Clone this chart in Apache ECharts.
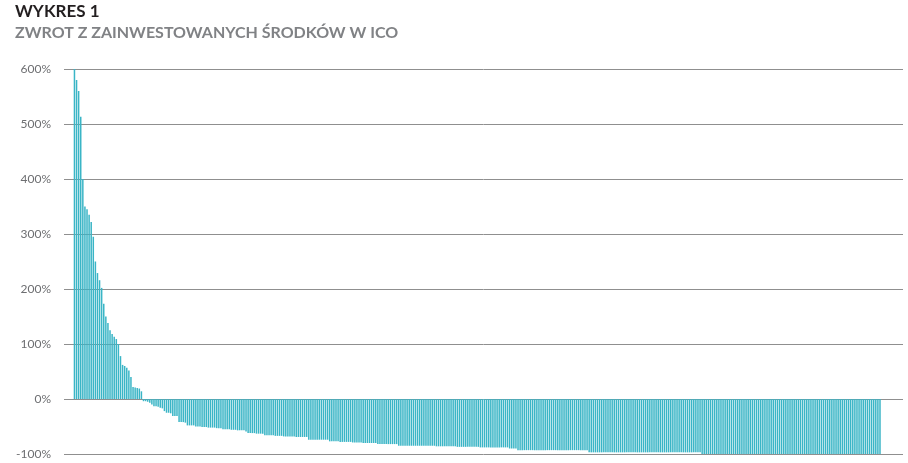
<!DOCTYPE html>
<html><head><meta charset="utf-8">
<script src="https://cdn.jsdelivr.net/npm/echarts@6/dist/echarts.min.js"></script>
<style>html,body{margin:0;padding:0;background:#fff}#c{width:908px;height:463px}</style>
</head><body><div id="c"></div>
<script>
const chartTitle = 'WYKRES 1';
const chartSubtitle = 'ZWROT Z ZAINWESTOWANYCH ŚRODKÓW W ICO';
const yMin = -100, yMax = 600, yStep = 100;

// Returns of ICOs, sorted from best to worst (in %)
const returnsGains = [600, 580, 560, 513, 400, 350, 345, 335, 322, 295, 250, 229, 216, 202, 173, 150, 138, 125, 118, 113, 109, 100, 78, 62, 60, 57, 52, 40, 22, 21, 20, 19, 14];
const returnsSmallLosses = [-4, -4, -5, -7, -10, -13, -13, -14, -16, -17, -22, -25, -25, -26, -31, -31, -31, -42, -42, -42, -43, -48, -48, -48, -48, -50, -50, -50, -51, -51, -51, -52, -52, -52, -52, -53, -53, -53, -55, -55, -55, -55, -56, -56, -56, -57, -57, -57, -57, -59];
const returnsMidLosses = [-62, -62, -62, -62, -63, -63, -63, -63, -66, -66, -66, -66, -66, -67, -67, -67, -67, -68, -68, -68, -68, -68, -68, -69, -69, -69, -69, -69, -69, -74, -74, -74, -74, -74, -74, -74, -74, -74, -74, -77, -77, -77, -77, -77, -78, -78, -78, -78, -78, -78, -79, -79, -79, -79, -79, -80, -80, -80, -80, -80, -80, -80];
const returnsLargeLosses = [-82, -82, -82, -82, -82, -82, -82, -82, -82, -82, -85, -85, -85, -85, -85, -85, -85, -85, -85, -85, -85, -85, -85, -85, -85, -85, -85, -85, -86, -86, -86, -86, -86, -86, -86, -86, -86, -86, -87, -87, -87, -87, -87, -87, -87, -87, -87, -87, -87, -88, -88, -88, -88, -88, -88, -88, -88, -88, -88, -88, -88, -88, -88, -90, -90, -90, -90];
const returnsHeavyLosses = [-93, -93, -93, -93, -93, -93, -93, -93, -93, -93, -93, -93, -93, -93, -93, -93, -93, -93, -93, -93, -93, -93, -93, -93, -93, -93, -93, -93, -93, -93, -93, -93, -93, -93, -97, -97, -97, -97, -97, -97, -97, -97, -97, -97, -97, -97, -97, -97, -97, -97, -97, -97, -97, -97, -97, -97, -97, -97, -97, -97, -97, -97, -97, -97, -97, -97, -97, -97, -97, -97, -97, -97, -97, -97, -97, -97, -97, -97, -97, -97, -97, -97, -97, -97, -97, -97, -97, -97];
const returnsTotalLosses = [-100, -100, -100, -100, -100, -100, -100, -100, -100, -100, -100, -100, -100, -100, -100, -100, -100, -100, -100, -100, -100, -100, -100, -100, -100, -100, -100, -100, -100, -100, -100, -100, -100, -100, -100, -100, -100, -100, -100, -100, -100, -100, -100, -100, -100, -100, -100, -100, -100, -100, -100, -100, -100, -100, -100, -100, -100, -100, -100, -100, -100, -100, -100, -100, -100, -100, -100, -100, -100, -100, -100, -100, -100, -100, -100, -100, -100, -100, -100, -100, -100, -100, -100, -100, -100, -100];

const returns = [].concat(returnsGains, returnsSmallLosses, returnsMidLosses, returnsLargeLosses, returnsHeavyLosses, returnsTotalLosses);
const seriesData = returns.map((v, i) => [i, v]);

const chart = echarts.init(document.getElementById('c'), null, {renderer: 'canvas'});
chart.setOption({
  animation: false,
  backgroundColor: '#ffffff',
  title: {
    left: 10, top: -2,
    text: chartTitle,
    subtext: chartSubtitle,
    itemGap: 5,
    textStyle: {fontFamily: 'Lato', fontWeight: 'bold', fontSize: 17, color: '#231f20'},
    subtextStyle: {fontFamily: 'Lato', fontWeight: 'bold', fontSize: 16, color: '#808285'}
  },
  grid: {left: 64, right: 5, top: 69, bottom: 9, containLabel: false},
  xAxis: {
    type: 'value', min: -5, max: returns.length + 10,
    show: false
  },
  yAxis: {
    type: 'value', min: yMin, max: yMax, interval: yStep,
    axisLine: {show: false}, axisTick: {show: false},
    axisLabel: {formatter: '{value}%', margin: 13, fontFamily: 'Lato', fontSize: 12, color: '#6d6e71', padding: [5, 0, 0, 0]},
    splitLine: {lineStyle: {color: '#8f8f8f', width: 1}}
  },
  series: [{
    type: 'bar',
    data: seriesData,
    barWidth: 1.5,
    itemStyle: {color: '#3ab5c6'},
    silent: true
  }]
});
</script>
</body></html>
